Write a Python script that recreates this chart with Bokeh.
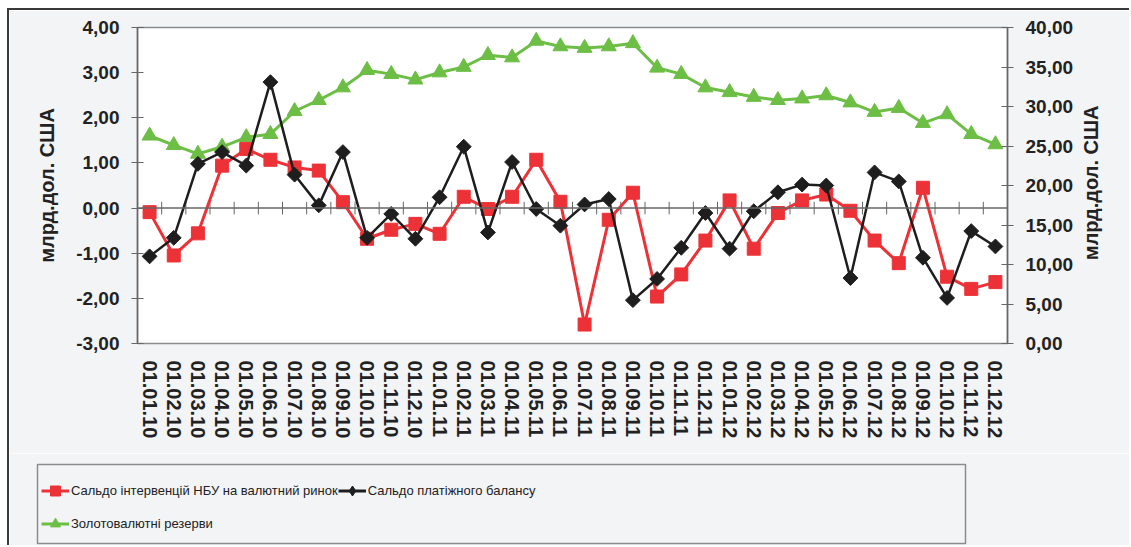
import numpy as np
from bokeh.plotting import figure
from bokeh.models import (Range1d, LinearAxis, FixedTicker, CustomJSTickFormatter,
                          Legend, LegendItem, Span)
from bokeh.embed import file_html
from bokeh.resources import INLINE

dates = [f"01.{m:02d}.{y}" for y in ("10", "11", "12") for m in range(1, 13)]

interventions = [-0.09, -1.05, -0.56, 0.94, 1.31, 1.07, 0.90, 0.83, 0.13, -0.68, -0.48, -0.35,
                 -0.57, 0.25, -0.02, 0.25, 1.07, 0.14, -2.58, -0.26, 0.34, -1.96, -1.47, -0.72,
                 0.17, -0.90, -0.11, 0.17, 0.30, -0.06, -0.72, -1.22, 0.45, -1.52, -1.79, -1.64]
balance = [-1.07, -0.66, 0.98, 1.24, 0.94, 2.79, 0.74, 0.06, 1.24, -0.66, -0.13, -0.68,
           0.24, 1.36, -0.54, 1.02, -0.02, -0.39, 0.08, 0.20, -2.04, -1.57, -0.88, -0.11,
           -0.90, -0.07, 0.35, 0.52, 0.50, -1.55, 0.79, 0.59, -1.10, -1.99, -0.51, -0.85]
reserves = [26.3, 25.1, 24.0, 24.9, 26.1, 26.5, 29.4, 30.8, 32.4, 34.6, 34.1, 33.4,
            34.3, 35.0, 36.5, 36.2, 38.3, 37.6, 37.4, 37.6, 38.0, 34.9, 34.1, 32.4,
            31.8, 31.2, 30.8, 31.0, 31.4, 30.5, 29.3, 29.8, 27.9, 29.0, 26.5, 25.2]

left_ticks = [-3, -2, -1, 0, 1, 2, 3, 4]
right_ticks = [0, 5, 10, 15, 20, 25, 30, 35, 40]

axis_title = "млрд.дол. США"
labels = ["Сальдо інтервенцій НБУ на валютний ринок",
          "Сальдо платіжного балансу",
          "Золотовалютні резерви"]

RED = "#EC3237"
BLACK = "#1E1E1E"
GREEN = "#6CBE45"
PAGE_BG = "#F3F4F6"
AX = "#666666"
FONT = "Liberation Sans"

x = list(range(len(dates)))
n = len(dates)

# canvas starts at (9, 10) because of the outer margin + frame line
p = figure(width=1122, height=445, x_range=Range1d(-0.5, n - 0.5),
           y_range=Range1d(-3, 4), output_backend="svg", toolbar_location=None,
           min_border_left=128, min_border_right=124, min_border_top=17, min_border_bottom=112)
p.styles = {"margin-top": "8px", "margin-left": "7px",
            "border-top": "2px solid #3A3A3A", "border-left": "2px solid #3A3A3A"}
p.extra_y_ranges = {"res": Range1d(0, 40)}
p.background_fill_color = "white"
p.border_fill_color = PAGE_BG
p.outline_line_color = "#8C8C8C"
p.outline_line_width = 1.5
p.xgrid.visible = False
p.ygrid.visible = False

num_fmt = CustomJSTickFormatter(code="return tick.toFixed(2).replace('.', ',');")

# bottom category labels
xa = p.xaxis[0]
xa.ticker = FixedTicker(ticks=x)
xa.formatter = CustomJSTickFormatter(args=dict(labels=dates),
                                     code="const i = Math.round(tick); return (i >= 0 && i < labels.length) ? labels[i] : '';")
xa.major_label_orientation = "vertical"
xa.axis_line_color = None
xa.major_tick_line_color = None
xa.minor_tick_line_color = None
xa.major_tick_out = 0
xa.major_tick_in = 0
xa.major_label_standoff = 17
xa.major_label_text_font = FONT
xa.major_label_text_font_style = "bold"
xa.major_label_text_font_size = "20px"
xa.major_label_text_color = "#222222"

def style_y(ax):
    ax.major_tick_in = 6
    ax.major_tick_out = 6
    ax.minor_tick_line_color = None
    ax.axis_line_color = AX
    ax.axis_line_width = 1.5
    ax.major_tick_line_color = AX
    ax.major_label_standoff = 12
    ax.major_label_text_font = FONT
    ax.major_label_text_font_style = "bold"
    ax.major_label_text_font_size = "19px"
    ax.major_label_text_color = "#222222"
    ax.axis_label = axis_title
    ax.axis_label_text_font = FONT
    ax.axis_label_text_font_style = "bold"
    ax.axis_label_text_font_size = "20px"
    ax.axis_label_text_color = "#222222"
    ax.axis_label_standoff = 15
    ax.formatter = num_fmt

ya = p.yaxis[0]
ya.ticker = FixedTicker(ticks=left_ticks)
style_y(ya)

yr = LinearAxis(y_range_name="res", ticker=FixedTicker(ticks=right_ticks))
style_y(yr)
# read bottom-to-top like the left title; anchored at the axis start and
# lifted with non-breaking spaces so it sits centred on the axis
yr.axis_label = "\u00a0" * 15 + axis_title
yr.axis_label_orientation = np.pi / 2
yr.axis_label_align = "start"
p.add_layout(yr, "right")

# horizontal line crossing at zero, with ticks on category boundaries
p.add_layout(Span(location=0, dimension="width", line_color=AX, line_width=1.5))
bounds = [i - 0.5 for i in range(n + 1)]
p.segment(x0=bounds, x1=bounds, y0=[-0.14] * len(bounds), y1=[0.14] * len(bounds),
          line_color=AX, line_width=1)

# series
p.line(x, reserves, y_range_name="res", line_color=GREEN, line_width=3)
p.scatter(x, reserves, y_range_name="res", marker="triangle", size=15, color=GREEN)
p.line(x, interventions, line_color=RED, line_width=3)
p.scatter(x, interventions, marker="square", size=13, color=RED)
p.line(x, balance, line_color=BLACK, line_width=2.5)
p.scatter(x, balance, marker="square", angle=np.pi / 4, size=10.5, color=BLACK)

# legend panel (its frame is the legend box)
p2 = figure(width=1122, height=92, x_range=Range1d(0, 1), y_range=Range1d(0, 1),
            output_backend="svg", toolbar_location=None,
            x_axis_location=None, y_axis_location=None,
            min_border_left=28, min_border_right=166, min_border_top=11, min_border_bottom=2)
p2.styles = {"margin-left": "7px", "border-left": "2px solid #3A3A3A"}
p2.xgrid.visible = False
p2.ygrid.visible = False
p2.background_fill_color = PAGE_BG
p2.border_fill_color = PAGE_BG
p2.outline_line_color = "#8C8C8C"
p2.outline_line_width = 1.5

items = []
for lab, col, mk in [(labels[0], RED, "square"),
                     (labels[1], BLACK, "diamond"),
                     (labels[2], GREEN, "triangle")]:
    rl = p2.line(x=[np.nan], y=[np.nan], line_color=col, line_width=3)
    rs = p2.scatter(x=[np.nan], y=[np.nan], marker=mk, size=10, color=col)
    items.append(LegendItem(label=lab, renderers=[rl, rs]))

legend = Legend(items=items, location=(4, 3), orientation="horizontal", ncols=2,
                padding=0, margin=0, spacing=0, label_height=33,
                glyph_width=28, glyph_height=25, label_standoff=2,
                border_line_color=None, background_fill_alpha=0,
                label_text_font=FONT,
                label_text_font_size="13px", label_text_color="#222222")
p2.add_layout(legend)

open("out.html", "w").write(file_html([p, p2], INLINE))
